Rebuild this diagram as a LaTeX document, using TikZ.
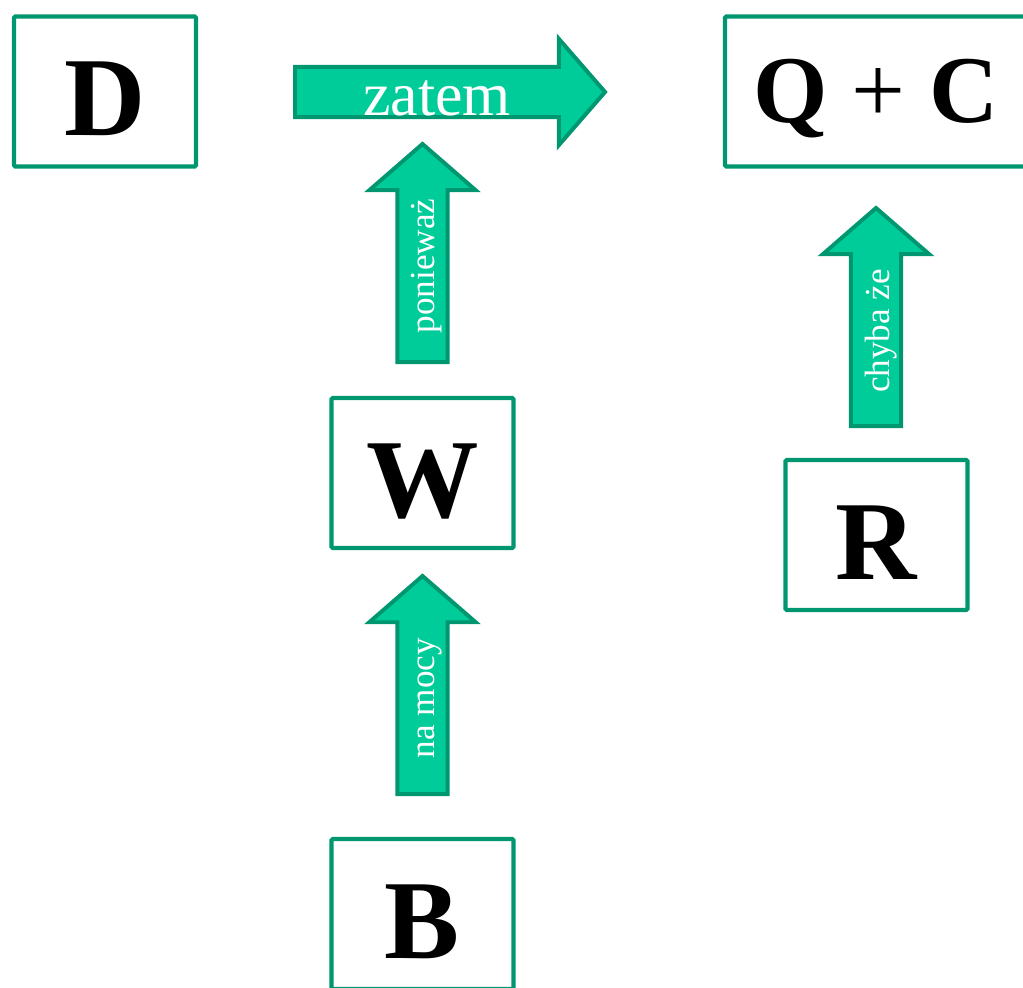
\documentclass[tikz,border=0pt]{standalone}
\usepackage{fontspec}
\setmainfont{Liberation Serif}
\usetikzlibrary{shapes.arrows}
\definecolor{ramka}{RGB}{0,150,112}
\definecolor{wypelnienie}{RGB}{0,204,153}

\begin{document}
\begin{tikzpicture}[x=0.025cm, y=-0.025cm,
        pole/.style={draw=ramka, line width=3pt, rounded corners=1pt, inner sep=0pt,
            minimum width=4.55cm, minimum height=3.75cm, text height=2.2cm, text depth=0pt,
            font=\fontsize{80}{80}\selectfont\bfseries},
        strzalka/.style={single arrow, draw=ramka, fill=wypelnienie, line width=2.8pt,
            inner sep=0pt, text height=1.16cm, text depth=0pt, anchor=tail,
            single arrow head extend=0.7cm, single arrow tip angle=98},
        napis/.style={text=white, inner sep=0pt, anchor=base, font=\fontsize{25}{25}\selectfont}]
            \clip (0,0) rectangle (1023,987);
            \node[pole] (dane) at (105,91.5) {D};
            \node[pole, minimum width=7.55cm, text height=1.55cm,
                font=\fontsize{68}{68}\selectfont\bfseries] (teza) at (876,91.5) {Q {\mdseries+} C};
            \node[pole] (gwarancja) at (422.5,473) {W};
            \node[pole] (wyjatek) at (876.5,535) {R};
            \node[pole] (podstawa) at (422.5,914) {B};
            \node[strzalka, minimum height=7.75cm] (zatem) at (293,92) {};
            \node[strzalka, rotate=90, minimum height=5.45cm] (poniewaz) at (422.5,364) {};
            \node[strzalka, rotate=90, minimum height=5.45cm] (namocy) at (422.5,796) {};
            \node[strzalka, rotate=90, minimum height=5.45cm] (chybaze) at (876,428) {};
            \node[napis, font=\fontsize{44}{44}\selectfont] (zatemtxt) at (437,115) {zatem};
            \node[napis, rotate=90] (poniewaztxt) at (434,266) {ponieważ};
            \node[napis, rotate=90] (namocytxt) at (434,698) {na mocy};
            \node[napis, rotate=90] (chybazetxt) at (889,331) {chyba że};
        \end{tikzpicture}
\end{document}
